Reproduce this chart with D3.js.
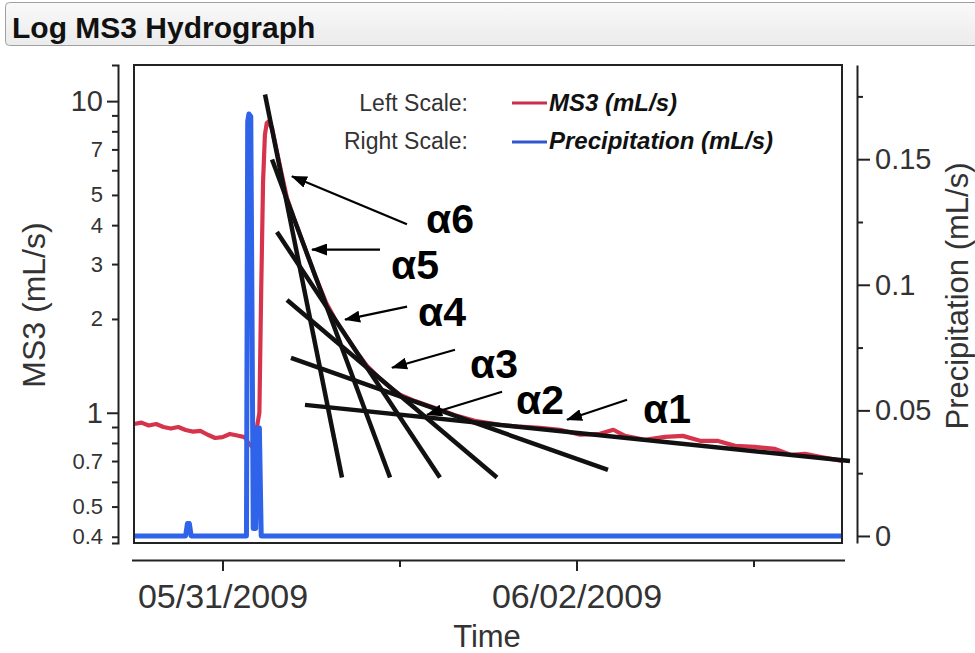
<!DOCTYPE html>
<html>
<head>
<meta charset="utf-8">
<script src="https://cdnjs.cloudflare.com/ajax/libs/d3/7.8.5/d3.min.js"></script>
<style>
  body { margin: 0; background: #fff; }
  svg { display: block; font-family: "Liberation Sans", Arial, sans-serif; }
</style>
</head>
<body>
<div id="viz"></div>
<script>
// MS3 discharge, left log scale
var ms3Times = [
  "2009-05-30 12:00","2009-05-30 13:00","2009-05-30 14:00","2009-05-30 15:00","2009-05-30 16:00",
  "2009-05-30 17:00","2009-05-30 18:00","2009-05-30 19:00","2009-05-30 20:00","2009-05-30 21:00",
  "2009-05-30 22:00","2009-05-30 23:00","2009-05-31 00:00","2009-05-31 01:00","2009-05-31 02:00",
  "2009-05-31 03:00","2009-05-31 03:30","2009-05-31 04:00","2009-05-31 04:30","2009-05-31 05:00",
  "2009-05-31 05:15","2009-05-31 05:30","2009-05-31 05:45","2009-05-31 06:00","2009-05-31 06:15",
  "2009-05-31 06:30","2009-05-31 06:43","2009-05-31 07:15","2009-05-31 07:56","2009-05-31 08:45",
  "2009-05-31 09:50","2009-05-31 11:11","2009-05-31 12:32","2009-05-31 14:02","2009-05-31 15:23",
  "2009-05-31 16:45","2009-05-31 18:14","2009-05-31 19:35","2009-05-31 21:21","2009-05-31 22:59",
  "2009-06-01 00:04","2009-06-01 02:06","2009-06-01 04:49","2009-06-01 07:32","2009-06-01 10:14",
  "2009-06-01 13:38","2009-06-01 16:20","2009-06-01 19:05","2009-06-01 21:45","2009-06-02 00:30",
  "2009-06-02 03:10","2009-06-02 05:00","2009-06-02 06:35","2009-06-02 09:15","2009-06-02 12:00",
  "2009-06-02 14:25","2009-06-02 16:45","2009-06-02 19:05","2009-06-02 21:30","2009-06-03 00:10",
  "2009-06-03 02:55","2009-06-03 05:00","2009-06-03 07:00","2009-06-03 09:00","2009-06-03 12:00"
];
var ms3Values = [
  0.92, 0.93, 0.91, 0.92, 0.90,
  0.89, 0.90, 0.88, 0.87, 0.875,
  0.85, 0.83, 0.835, 0.855, 0.845,
  0.835, 0.80, 0.78, 0.85, 1.0,
  2.5, 5.5, 7.8, 8.5, 8.6,
  8.35, 8.2, 7.13, 5.97, 4.88,
  4.12, 3.37, 2.76, 2.26, 1.975,
  1.766, 1.562, 1.416, 1.286, 1.193,
  1.143, 1.09, 1.035, 0.982, 0.943,
  0.915, 0.902, 0.895, 0.882, 0.850,
  0.856, 0.882, 0.843, 0.819, 0.837,
  0.843, 0.813, 0.813, 0.783, 0.777,
  0.766, 0.733, 0.738, 0.722, 0.701
];

// Precipitation, right linear scale
var rainTimes = [
  "2009-05-30 12:00","2009-05-30 19:00","2009-05-30 19:15","2009-05-30 19:30","2009-05-30 19:45",
  "2009-05-31 03:15","2009-05-31 03:25","2009-05-31 03:35","2009-05-31 03:50","2009-05-31 04:00",
  "2009-05-31 04:10","2009-05-31 04:30","2009-05-31 04:45","2009-05-31 05:00","2009-05-31 05:15",
  "2009-06-03 12:00"
];
var rainValues = [0, 0, 0.005, 0.005, 0, 0, 0.165, 0.168, 0.167, 0.09, 0.003, 0.003, 0.043, 0.043, 0, 0];

// recession fit lines
var fitLabels = ["α6", "α5", "α4", "α3", "α2", "α1"];
var fitStartTimes = ["2009-05-31 05:46","2009-05-31 06:43","2009-05-31 07:23","2009-05-31 08:45","2009-05-31 09:17","2009-05-31 11:11"];
var fitStartValues = [10.5, 6.5, 3.8, 2.3, 1.5, 1.06];
var fitEndTimes = ["2009-05-31 16:12","2009-05-31 22:43","2009-06-01 05:29","2009-06-01 13:13","2009-06-02 04:16","2009-06-03 13:05"];
var fitEndValues = [0.62, 0.62, 0.62, 0.62, 0.656, 0.70];

// where each label arrow points
var arrowTimes = ["2009-05-31 09:25","2009-05-31 12:08","2009-05-31 16:37","2009-05-31 22:59","2009-06-01 03:44","2009-06-01 22:43"];
var arrowValues = [5.74, 3.34, 1.99, 1.395, 0.985, 0.95];

// axes
var timeDomain = ["2009-05-30 12:00", "2009-06-03 12:00"];
var ms3Domain = [0.382, 13.06];
var rainDomain = [-0.0028, 0.1875];
var leftTicks = [0.4, 0.5, 0.7, 1, 2, 3, 4, 5, 7, 10];
var leftMinorTicks = [0.6, 0.8, 0.9, 6, 8, 9];
var rightTicks = [0, 0.05, 0.1, 0.15];
var rightMinorTicks = [0.025, 0.075, 0.125, 0.175];
var dayTicks = ["2009-05-31 00:00", "2009-06-02 00:00"];
var dayMinorTicks = ["2009-06-01 00:00", "2009-06-03 00:00"];

var width = 975, height = 653;
var box = {left: 134, right: 842, top: 65, bottom: 543};
var red = "#d6344c", blue = "#2f63e9", ink = "#333";

var parseTime = d3.timeParse("%Y-%m-%d %H:%M");

var svg = d3.select("#viz").append("svg")
    .attr("width", width)
    .attr("height", height);

svg.append("rect").attr("width", width).attr("height", height).attr("fill", "#fff");

var defs = svg.append("defs");
var grad = defs.append("linearGradient").attr("id", "bar")
    .attr("x1", 0).attr("y1", 0).attr("x2", 0).attr("y2", 1);
grad.append("stop").attr("offset", "0%").attr("stop-color", "#f9f9f9");
grad.append("stop").attr("offset", "100%").attr("stop-color", "#ebebeb");

defs.append("marker").attr("id", "head")
    .attr("markerUnits", "userSpaceOnUse")
    .attr("markerWidth", 16).attr("markerHeight", 12)
    .attr("refX", 15).attr("refY", 6)
    .attr("orient", "auto")
  .append("path").attr("d", "M0,0 L16,6 L0,12 Z").attr("fill", "#000");

//Title bar
svg.append("rect")
    .attr("x", 5.5).attr("y", 2.5)
    .attr("width", 985).attr("height", 43)
    .attr("rx", 4)
    .attr("fill", "url(#bar)")
    .attr("stroke", "#a0a0a0");
svg.append("text")
    .attr("x", 12).attr("y", 38)
    .attr("font-size", 30).attr("font-weight", "bold")
    .attr("fill", "#111")
    .text("Log MS3 Hydrograph");

//Scales
var x = d3.scaleTime().domain(timeDomain.map(parseTime)).range([box.left, box.right]);
var yL = d3.scaleLog().domain(ms3Domain).range([box.bottom, box.top]);
var yR = d3.scaleLinear().domain(rainDomain).range([box.bottom, box.top]);

//Left axis
var leftAxis = svg.append("g")
    .attr("transform", "translate(118,0)")
    .call(d3.axisLeft(yL).tickValues(leftTicks).tickSizeOuter(0)
        .tickSize(6).tickPadding(10).tickFormat(function(d) { return String(d); }));
leftAxis.selectAll(".tick line").attr("x2", function(d) { return (d === 1 || d === 10) ? -11 : -6; });
leftAxis.selectAll(".tick text")
    .attr("font-size", function(d) { return (d === 1 || d === 10) ? 29 : 22; })
    .attr("x", -15);
svg.append("g")
    .attr("transform", "translate(118,0)")
    .call(d3.axisLeft(yL).tickValues(leftMinorTicks).tickSize(6).tickSizeOuter(0).tickFormat(""))
    .select(".domain").remove();

//Right axis
var rightAxis = svg.append("g")
    .attr("transform", "translate(857,0)")
    .call(d3.axisRight(yR).tickValues(rightTicks).tickSize(13).tickSizeOuter(0).tickPadding(5)
        .tickFormat(function(d) { return String(d); }));
rightAxis.selectAll(".tick text").attr("font-size", 29);
svg.append("g")
    .attr("transform", "translate(857,0)")
    .call(d3.axisRight(yR).tickValues(rightMinorTicks).tickSize(6).tickSizeOuter(0).tickFormat(""))
    .select(".domain").remove();

//Bottom axis
var xAxisG = svg.append("g")
    .attr("transform", "translate(0,560)")
    .call(d3.axisBottom(x).tickValues(dayTicks.map(parseTime)).tickSize(11).tickSizeOuter(0).tickPadding(13)
        .tickFormat(d3.timeFormat("%m/%d/%Y")));
xAxisG.selectAll(".tick text").attr("font-size", 34);
xAxisG.select(".domain").attr("d", "M132,0.5H845");
svg.append("g")
    .attr("transform", "translate(0,560)")
    .call(d3.axisBottom(x).tickValues(dayMinorTicks.map(parseTime)).tickSize(7).tickFormat(""))
    .select(".domain").remove();

svg.selectAll(".domain, .tick line").attr("stroke", "#222").attr("stroke-width", 2);
svg.selectAll(".tick text").attr("fill", ink).attr("font-family", "Liberation Sans, Arial, sans-serif");

//Axis titles
svg.append("text")
    .attr("transform", "translate(45,305) rotate(-90)")
    .attr("text-anchor", "middle").attr("font-size", 32).attr("fill", ink)
    .text("MS3 (mL/s)");
svg.append("text")
    .attr("transform", "translate(968,296) rotate(-90)")
    .attr("text-anchor", "middle").attr("font-size", 31).attr("fill", ink)
    .text("Precipitation (mL/s)");
svg.append("text")
    .attr("x", 487).attr("y", 647)
    .attr("text-anchor", "middle").attr("font-size", 31).attr("fill", ink)
    .text("Time");

//Series
var ms3 = ms3Times.map(function(t, i) { return {t: parseTime(t), v: ms3Values[i]}; });
var rain = rainTimes.map(function(t, i) { return {t: parseTime(t), v: rainValues[i]}; });

svg.append("path")
    .datum(ms3)
    .attr("fill", "none")
    .attr("stroke", red)
    .attr("stroke-width", 4.2)
    .attr("stroke-linejoin", "round")
    .attr("d", d3.line().x(function(d) { return x(d.t); }).y(function(d) { return yL(d.v); }));

svg.append("path")
    .datum(rain)
    .attr("fill", "none")
    .attr("stroke", blue)
    .attr("stroke-width", 5)
    .attr("stroke-linejoin", "round")
    .attr("d", d3.line().x(function(d) { return x(d.t); }).y(function(d) { return yR(d.v); }));

//Plot frame
svg.append("rect")
    .attr("x", box.left).attr("y", box.top)
    .attr("width", box.right - box.left).attr("height", box.bottom - box.top)
    .attr("fill", "none").attr("stroke", "#222").attr("stroke-width", 2);

//Fit lines
svg.selectAll(".fit")
    .data(fitLabels)
    .enter().append("line")
    .attr("class", "fit")
    .attr("x1", function(d, i) { return x(parseTime(fitStartTimes[i])); })
    .attr("y1", function(d, i) { return yL(fitStartValues[i]); })
    .attr("x2", function(d, i) { return x(parseTime(fitEndTimes[i])); })
    .attr("y2", function(d, i) { return yL(fitEndValues[i]); })
    .attr("stroke", "#111")
    .attr("stroke-width", 4.5);

//Arrows + labels (tail and label offsets in px from the arrow head)
var tailOffsets = [[115, 48], [68, 0], [62, -13], [63, -18], [75, -23], [60, -20]];
var labelOffsets = [[134, 57], [79, 29], [73, 6], [78, 10], [89, -1], [76, 3]];

fitLabels.forEach(function(label, i) {
    var hx = x(parseTime(arrowTimes[i])), hy = yL(arrowValues[i]);
    svg.append("line")
        .attr("x1", hx + tailOffsets[i][0]).attr("y1", hy + tailOffsets[i][1])
        .attr("x2", hx).attr("y2", hy)
        .attr("stroke", "#000").attr("stroke-width", 2.2)
        .attr("marker-end", "url(#head)");
    svg.append("text")
        .attr("x", hx + labelOffsets[i][0]).attr("y", hy + labelOffsets[i][1])
        .attr("font-size", 41).attr("font-weight", "bold")
        .attr("fill", "#000")
        .text(label);
});

//Legend
var legend = svg.append("g").attr("font-size", 23);
legend.append("text").attr("x", 468).attr("y", 111).attr("text-anchor", "end").attr("fill", ink).text("Left Scale:");
legend.append("text").attr("x", 468).attr("y", 149).attr("text-anchor", "end").attr("fill", ink).text("Right Scale:");
legend.append("line").attr("x1", 512).attr("x2", 547).attr("y1", 103).attr("y2", 103).attr("stroke", "#c8304c").attr("stroke-width", 3);
legend.append("line").attr("x1", 512).attr("x2", 547).attr("y1", 142).attr("y2", 142).attr("stroke", "#3058cc").attr("stroke-width", 3);
legend.append("text").attr("x", 549).attr("y", 111).attr("font-size", 24)
    .attr("font-weight", "bold").attr("font-style", "italic").attr("fill", "#111").text("MS3 (mL/s)");
legend.append("text").attr("x", 549).attr("y", 149).attr("font-size", 24)
    .attr("font-weight", "bold").attr("font-style", "italic").attr("fill", "#111").text("Precipitation (mL/s)");
</script>
</body>
</html>
